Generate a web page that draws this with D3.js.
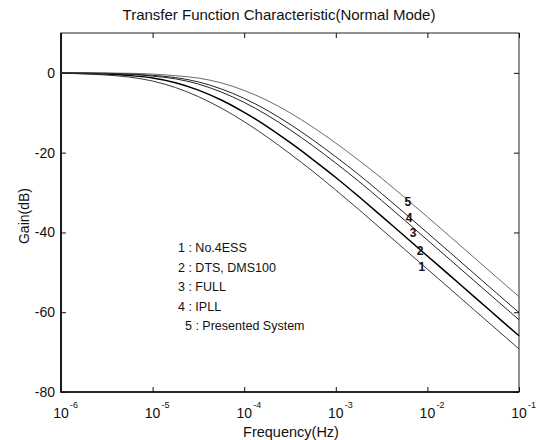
<!DOCTYPE html>
<html>
<head>
<meta charset="utf-8">
<script src="https://cdn.jsdelivr.net/npm/d3@7"></script>
<style>
  html, body { margin: 0; padding: 0; background: #fff; }
  svg { display: block; font-family: "Liberation Sans", Arial, sans-serif; }
</style>
</head>
<body>
<svg id="chart" width="540" height="440"></svg>
<script>
// Frequency grid (Hz) shared by all five curves
const freq = [1e-6, 3.16e-6, 5.62e-6, 1e-5, 1.78e-5, 3.16e-5, 5.62e-5, 1e-4, 1.78e-4,
              3.16e-4, 5.62e-4, 1e-3, 1.78e-3, 3.16e-3, 5.62e-3, 1e-2, 1.78e-2,
              3.16e-2, 5.62e-2, 1e-1];

// Gain (dB) of each system's transfer function
const gainNo4ESS = [-0.08, -0.55, -1.07, -2.04, -3.68, -5.95, -8.82, -12.23, -16.08, -20.27,
                    -24.69, -29.38, -34.24, -39.2, -44.2, -49.2, -54.2, -59.2, -64.2, -69.2];
const gainDTS    = [-0.05, -0.29, -0.68, -1.28, -2.45, -4.32, -6.8, -9.88, -13.46, -17.44,
                    -21.73, -26.22, -31.0, -35.9, -40.9, -45.9, -50.9, -55.9, -60.9, -65.9];
const gainFULL   = [-0.02, -0.13, -0.36, -0.8, -1.49, -2.8, -4.8, -7.4, -10.58, -14.24,
                    -18.29, -22.62, -27.17, -31.98, -36.9, -41.9, -46.9, -51.9, -56.9, -61.9];
const gainIPLL   = [0, -0.09, -0.26, -0.62, -1.18, -2.26, -4.02, -6.4, -9.38, -12.88,
                    -16.8, -21.04, -25.5, -30.24, -35.12, -40.1, -45.1, -50.1, -55.1, -60.1];
const gainPresented = [0, -0.05, -0.1, -0.3, -0.7, -1.3, -2.5, -4.4, -6.9, -10.0,
                    -13.6, -17.6, -21.9, -26.4, -31.2, -36.1, -41.1, -46.1, -51.1, -56.1];

// Curve numbers and legend entries
const curveIds = ["1", "2", "3", "4", "5"];
const legendLabels = ["1 : No.4ESS", "2 : DTS, DMS100", "3 : FULL", "4 : IPLL", "5 : Presented System"];
// Where each curve number is written (frequency, gain)
const labelFreq = [8.7e-3, 8.3e-3, 7.0e-3, 6.3e-3, 6.1e-3];
const labelGain = [-48.5, -44.5, -39.9, -36.3, -32.3];

// Axis ticks
const xTickExp = [-6, -5, -4, -3, -2, -1];
const yTicks = [-80, -60, -40, -20, 0];

const series = [gainNo4ESS, gainDTS, gainFULL, gainIPLL, gainPresented];

const svg = d3.select("#chart");
const plot = { left: 61, right: 519, top: 33, bottom: 392 };

const x = d3.scaleLog().domain([1e-6, 1e-1]).range([plot.left, plot.right]);
const y = d3.scaleLinear().domain([-80, 10]).range([plot.bottom, plot.top]);

// Title
svg.append("text")
  .attr("x", 279).attr("y", 20)
  .attr("text-anchor", "middle")
  .attr("font-size", 15)
  .attr("fill", "#111")
  .text("Transfer Function Characteristic(Normal Mode)");

// Frame: left and bottom edges heavier
svg.append("rect")
  .attr("x", plot.left).attr("y", plot.top)
  .attr("width", plot.right - plot.left).attr("height", plot.bottom - plot.top)
  .attr("fill", "none").attr("stroke", "#222").attr("stroke-width", 1);
svg.append("path")
  .attr("d", `M${plot.left},${plot.top}V${plot.bottom}H${plot.right}`)
  .attr("fill", "none").attr("stroke", "#000").attr("stroke-width", 1.6);

// Inward ticks on all four sides
const xTickVals = xTickExp.map(e => Math.pow(10, e));
const axisStyle = g => {
  g.select(".domain").remove();
  g.selectAll(".tick line").attr("stroke", "#111");
  g.selectAll(".tick text").remove();
};
svg.append("g").attr("transform", `translate(0,${plot.bottom})`)
  .call(d3.axisBottom(x).tickValues(xTickVals).tickSize(-5)).call(axisStyle);
svg.append("g").attr("transform", `translate(0,${plot.top})`)
  .call(d3.axisTop(x).tickValues(xTickVals).tickSize(-5)).call(axisStyle);
svg.append("g").attr("transform", `translate(${plot.left},0)`)
  .call(d3.axisLeft(y).tickValues(yTicks).tickSize(-5)).call(axisStyle);
svg.append("g").attr("transform", `translate(${plot.right},0)`)
  .call(d3.axisRight(y).tickValues(yTicks).tickSize(-5)).call(axisStyle);

// Y tick labels
svg.append("g").selectAll("text").data(yTicks).join("text")
  .attr("x", plot.left - 6).attr("y", d => y(d) + 5)
  .attr("text-anchor", "end").attr("font-size", 14).attr("fill", "#111")
  .text(d => d);

// X tick labels: 10 with a superscript exponent
const xl = svg.append("g").selectAll("g").data(xTickExp).join("g")
  .attr("transform", d => `translate(${x(Math.pow(10, d))},0)`);
xl.append("text").attr("x", 0).attr("y", 418)
  .attr("text-anchor", "middle").attr("font-size", 14).attr("fill", "#111").text("10");
xl.append("text").attr("x", 9).attr("y", 408)
  .attr("font-size", 9).attr("fill", "#111").text(d => d);

// Axis titles
svg.append("text").attr("x", 291).attr("y", 437)
  .attr("text-anchor", "middle").attr("font-size", 14.5).attr("fill", "#111")
  .text("Frequency(Hz)");
svg.append("text").attr("transform", "translate(29,216) rotate(-90)")
  .attr("text-anchor", "middle").attr("font-size", 14).attr("fill", "#111")
  .text("Gain(dB)");

// Curves
const line = d3.line()
  .x((d, i) => x(freq[i]))
  .y(d => y(d))
  .curve(d3.curveMonotoneX);
const strokeW = [0.9, 1.5, 1.0, 1.0, 0.8];
const strokeC = ["#222", "#000", "#222", "#222", "#444"];
svg.append("g").selectAll("path").data(series).join("path")
  .attr("d", line)
  .attr("fill", "none")
  .attr("stroke", (d, i) => strokeC[i])
  .attr("stroke-width", (d, i) => strokeW[i]);

// Curve numbers
svg.append("g").selectAll("text").data(curveIds).join("text")
  .attr("x", (d, i) => x(labelFreq[i]))
  .attr("y", (d, i) => y(labelGain[i]) + 4.5)
  .attr("text-anchor", "middle")
  .attr("font-size", 12).attr("font-weight", "bold").attr("fill", "#111")
  .text(d => d);

// Legend
svg.append("g").selectAll("text").data(legendLabels).join("text")
  .attr("x", (d, i) => i === 4 ? 185 : 178)
  .attr("y", (d, i) => 252 + i * 19.5)
  .attr("font-size", 12.5).attr("fill", "#111")
  .text(d => d);
</script>
</body>
</html>
